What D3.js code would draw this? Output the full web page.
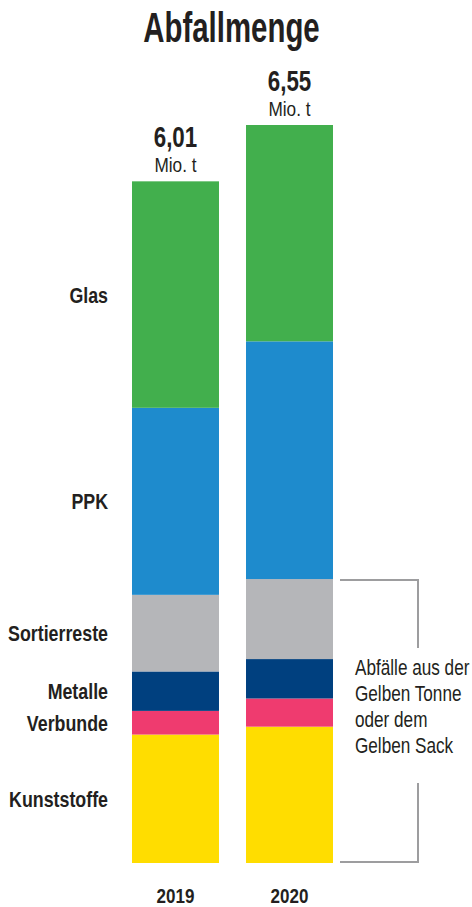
<!DOCTYPE html>
<html><head><meta charset="utf-8">
<script src="https://cdn.jsdelivr.net/npm/d3@7"></script>
<style>
html,body{margin:0;padding:0;background:#fff;}
svg{display:block;}
text{font-family:"Liberation Sans",Arial,sans-serif;fill:#231f20;}
</style></head>
<body><svg id="c" width="472" height="907"></svg>
<script>
const years = ["2019", "2020"];
const categories = ["Kunststoffe", "Verbunde", "Metalle", "Sortierreste", "PPK", "Glas"];
const values2019 = [1.14, 0.21, 0.35, 0.68, 1.66, 2.01];
const values2020 = [1.21, 0.25, 0.35, 0.71, 2.11, 1.92];
const totalLabels = ["6,01", "6,55"];
const unitLabel = "Mio. t";
const colors = ["#FFDD00", "#EF3B6F", "#00407F", "#B5B6B9", "#1E8BCD", "#42AF4D"];
const annotationLines = ["Abfälle aus der", "Gelben Tonne", "oder dem", "Gelben Sack"];

const svg = d3.select("#c");
const rows = years.map((y, i) => {
  const r = {year: y};
  const vals = i === 0 ? values2019 : values2020;
  categories.forEach((c, j) => r[c] = vals[j]);
  return r;
});
const stack = d3.stack().keys(categories)(rows);

const x = d3.scaleBand().domain(years).range([132, 333]).paddingInner(0.237).paddingOuter(0);
const y = d3.scaleLinear().domain([0, 6.55]).range([863, 125]);
const color = d3.scaleOrdinal().domain(categories).range(colors);

svg.append("g").selectAll("g").data(stack).join("g")
  .attr("fill", d => color(d.key))
  .selectAll("rect").data(d => d).join("rect")
  .attr("x", d => x(d.data.year))
  .attr("width", x.bandwidth())
  .attr("y", d => y(d[1]))
  .attr("height", d => y(d[0]) - y(d[1]));

function label(g, tx, ty, str, size, weight, anchor, sx) {
  return g.append("text").attr("x", tx).attr("y", ty)
    .attr("text-anchor", anchor).attr("font-size", size).attr("font-weight", weight)
    .attr("transform", `translate(${tx},0) scale(${sx},1) translate(${-tx},0)`)
    .text(str);
}

// title
label(svg, 231.5, 42, "Abfallmenge", 42, "bold", "middle", 0.70);

// totals and years
years.forEach((yr, i) => {
  const cx = x(yr) + x.bandwidth() / 2;
  const top = y(d3.sum(stack, s => s[i][1] - s[i][0]));
  label(svg, cx, top - 34, totalLabels[i], 29, "bold", "middle", 0.77);
  label(svg, cx, top - 9, unitLabel, 21, "normal", "middle", 0.82);
  label(svg, cx, 903, yr, 21, "bold", "middle", 0.81);
});

// category labels at 2019 segment centers
stack.forEach(s => {
  const cy = (y(s[0][0]) + y(s[0][1])) / 2 + 8;
  label(svg, 108, cy, s.key, 22, "bold", "end", 0.81);
});

// bracket
const sortTop = y(stack[3][1][1]);
const bottom = y(0);
const bx = 418;
svg.append("path")
  .attr("d", `M340,${sortTop + 1}H${bx}V648M${bx},783V${bottom - 1}H340`)
  .attr("fill", "none").attr("stroke", "#9d9d9f").attr("stroke-width", 2);

annotationLines.forEach((t, i) => label(svg, 355, 675 + i * 26, t, 22, "normal", "start", 0.78));
</script></body></html>
